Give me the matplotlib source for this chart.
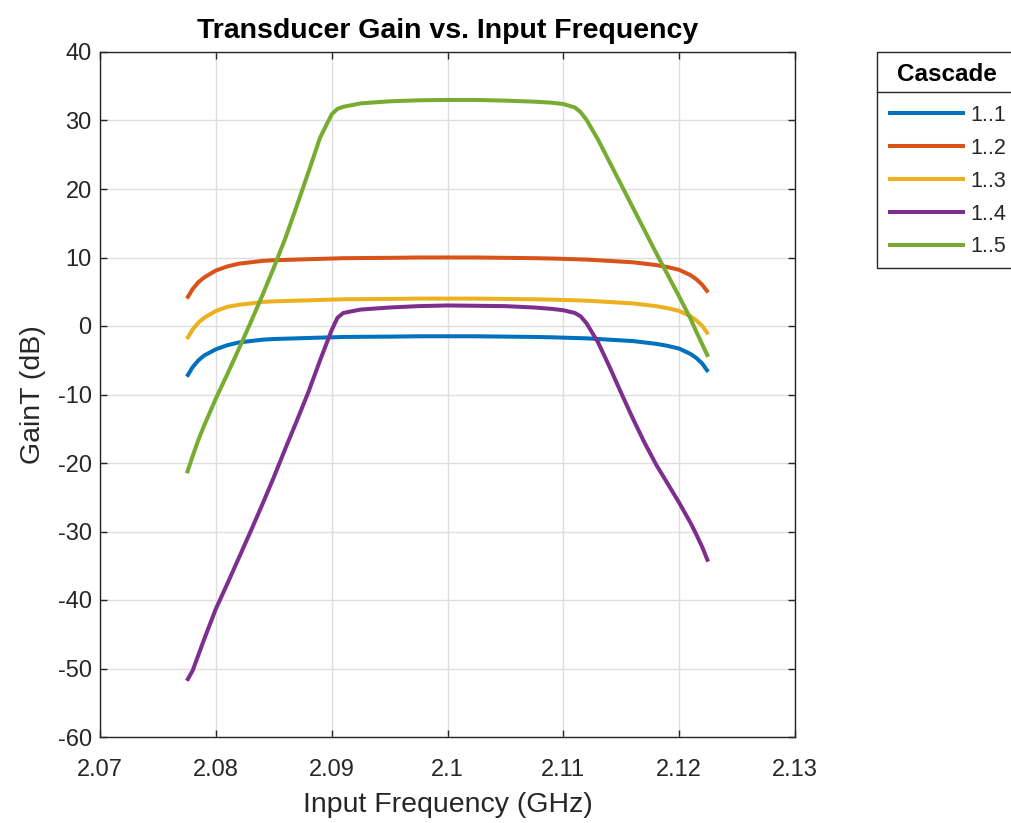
import matplotlib
matplotlib.use("Agg")
import matplotlib.pyplot as plt
from matplotlib.lines import Line2D

plt.rcParams['font.family'] = ['Liberation Sans', 'DejaVu Sans']
plt.rcParams['axes.unicode_minus'] = False

# input frequency sweep (GHz)
freq = [2.0775, 2.0780, 2.0785, 2.0790, 2.0800, 2.0810, 2.0820, 2.0830, 2.0840,
        2.0850, 2.0860, 2.0870, 2.0880, 2.0890, 2.0900, 2.0905, 2.0910, 2.0925,
        2.0950, 2.0975, 2.1000, 2.1025, 2.1050, 2.1075, 2.1090, 2.1100, 2.1110,
        2.1115, 2.1120, 2.1130, 2.1140, 2.1150, 2.1160, 2.1170, 2.1180, 2.1190,
        2.1200, 2.1210, 2.1215, 2.1220, 2.1225]

# transducer gain per cascade stage (dB)
gain_1_1 = [-7.4, -6.0, -5.0, -4.3, -3.4, -2.8, -2.4, -2.2, -2.0, -1.9, -1.85,
            -1.8, -1.75, -1.7, -1.65, -1.63, -1.6, -1.58, -1.55, -1.5, -1.5,
            -1.5, -1.55, -1.6, -1.65, -1.7, -1.75, -1.78, -1.8, -1.9, -2.0,
            -2.1, -2.2, -2.4, -2.6, -2.9, -3.3, -4.1, -4.7, -5.5, -6.7]
gain_1_2 = [4.0, 5.4, 6.4, 7.1, 8.1, 8.7, 9.1, 9.3, 9.5, 9.6, 9.65, 9.7, 9.75,
            9.8, 9.85, 9.87, 9.9, 9.92, 9.95, 10.0, 10.0, 10.0, 9.95, 9.9, 9.85,
            9.8, 9.75, 9.72, 9.7, 9.6, 9.5, 9.4, 9.3, 9.1, 8.9, 8.6, 8.2, 7.4,
            6.8, 6.0, 4.9]
gain_1_3 = [-1.9, -0.5, 0.5, 1.2, 2.2, 2.8, 3.1, 3.3, 3.5, 3.6, 3.65, 3.7, 3.75,
            3.8, 3.85, 3.87, 3.9, 3.92, 3.95, 4.0, 4.0, 4.0, 3.95, 3.9, 3.85,
            3.8, 3.75, 3.72, 3.7, 3.6, 3.5, 3.4, 3.3, 3.1, 2.9, 2.6, 2.2, 1.4,
            0.8, 0.0, -1.2]
gain_1_4 = [-51.8, -50.3, -48.0, -45.7, -41.3, -37.6, -33.8, -30.0, -26.1, -22.1,
            -17.9, -13.8, -9.6, -5.0, -0.6, 1.2, 1.9, 2.4, 2.7, 2.9, 3.0, 2.95,
            2.9, 2.7, 2.5, 2.3, 1.9, 1.4, 0.4, -2.4, -6.0, -9.8, -13.5, -17.0,
            -20.2, -23.0, -25.8, -28.8, -30.5, -32.3, -34.4]
gain_1_5 = [-21.5, -19.0, -16.6, -14.5, -10.6, -7.0, -3.3, 0.5, 4.4, 8.5, 12.8,
            17.6, 22.5, 27.5, 30.9, 31.7, 32.0, 32.5, 32.8, 32.95, 33.0, 33.0,
            32.9, 32.75, 32.6, 32.4, 31.9, 31.2, 30.1, 27.2, 23.9, 20.6, 17.3,
            14.0, 10.7, 7.5, 4.3, 1.0, -0.9, -2.7, -4.5]

labels = ['1..1', '1..2', '1..3', '1..4', '1..5']
colors = ['#0072BD', '#D95319', '#EDB120', '#7E2F8E', '#77AC30']

W, H = 1011, 823
fig = plt.figure(figsize=(W / 100, H / 100), dpi=100)
ax = fig.add_axes([100 / W, 1 - 737 / H, 695 / W, 685 / H])

lines = []
for g, lab, c in zip([gain_1_1, gain_1_2, gain_1_3, gain_1_4, gain_1_5], labels, colors):
    ln, = ax.plot(freq, g, color=c, lw=2.9, label=lab, solid_capstyle='butt')
    lines.append(ln)

ax.set_xlim(2.07, 2.13)
ax.set_ylim(-60, 40)
ax.set_xticks([2.07, 2.08, 2.09, 2.1, 2.11, 2.12, 2.13])
ax.set_xticklabels(['2.07', '2.08', '2.09', '2.1', '2.11', '2.12', '2.13'])
ax.set_yticks(range(-60, 41, 10))

dark = '#262626'
ax.grid(True, color='#dedede', lw=1.0)
ax.set_axisbelow(True)
for s in ax.spines.values():
    s.set_color(dark)
    s.set_linewidth(1.0)
ax.tick_params(direction='in', length=5, width=1.0, colors=dark, labelsize=17,
               top=True, right=True)
ax.tick_params(axis='x', pad=16)
ax.tick_params(axis='y', pad=6)

ax.set_title('Transducer Gain vs. Input Frequency', fontsize=20.5, fontweight='bold',
             color='#000000', pad=10)
ax.set_xlabel('Input Frequency (GHz)', fontsize=20.5, color=dark, labelpad=8)
ax.set_ylabel('GainT (dB)', fontsize=20.5, color=dark, labelpad=8)

fs = 15.5
spacing = 0.555
leg = ax.legend(handles=lines, loc='upper left',
                bbox_to_anchor=(877 / W, 1 - 52 / H), bbox_transform=fig.transFigure,
                borderaxespad=0, fontsize=fs, title='Cascade',
                title_fontproperties={'weight': 'bold', 'size': 17.5},
                handlelength=3.6, handletextpad=0.25, labelspacing=spacing,
                borderpad=0.5, fancybox=False, framealpha=1, edgecolor=dark)
# a little more room between the title and the entries
leg._legend_box.sep = spacing * fs + 5
leg.get_frame().set_linewidth(1.0)
for t in leg.get_texts():
    t.set_color(dark)

# rule under the legend title
fig.add_artist(Line2D([877 / W, 1.0], [1 - 92 / H, 1 - 92 / H],
                      transform=fig.transFigure, color=dark, lw=1.0))

fig.savefig('out.png', dpi=100)
